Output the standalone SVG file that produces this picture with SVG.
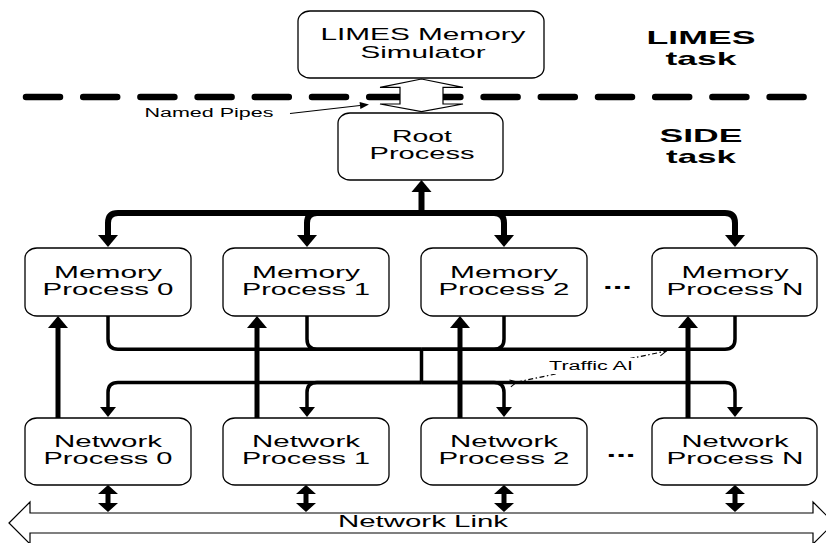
<svg xmlns="http://www.w3.org/2000/svg" width="826" height="543" viewBox="0 0 826 543">
  <style>
    .box { fill: #fff; stroke: #000; stroke-width: 1.3; }
    .t { font-family: "Liberation Sans", Arial, sans-serif; font-size: 17px; text-anchor: middle; fill: #000; }
    .ts { font-family: "Liberation Sans", Arial, sans-serif; font-size: 12.5px; text-anchor: middle; fill: #000; }
    .tb { font-family: "Liberation Sans", Arial, sans-serif; font-size: 18.5px; font-weight: bold; text-anchor: middle; fill: #000; }
    .dots { font-family: "Liberation Sans", Arial, sans-serif; font-size: 21px; font-weight: bold; text-anchor: middle; fill: #000; }
    .bus { fill: none; stroke: #000; stroke-width: 6; }
    .link { fill: none; stroke: #000; stroke-width: 3.5; }
    .up { fill: none; stroke: #000; stroke-width: 5; }
    .hollow { fill: #fff; stroke: #000; stroke-width: 1.2; stroke-linejoin: miter; }
    .head { fill: #000; }
  </style>
  <defs>
    <!-- solid heads; the path ends at the head's base -->
    <marker id="big" markerUnits="userSpaceOnUse" markerWidth="13" markerHeight="20" refX="0" refY="10" orient="auto" overflow="visible">
      <path d="M0,0 L12,10 L0,20 Z" class="head"/>
    </marker>
    <marker id="small" markerUnits="userSpaceOnUse" markerWidth="11" markerHeight="16" refX="0" refY="8" orient="auto" overflow="visible">
      <path d="M0,0 L10,8 L0,16 Z" class="head"/>
    </marker>
    <marker id="pipe" markerUnits="userSpaceOnUse" markerWidth="10" markerHeight="8" refX="0" refY="3.5" orient="auto" overflow="visible">
      <path d="M0,0 L9,3.5 L0,7 Z" class="head"/>
    </marker>
    <marker id="vee" markerUnits="userSpaceOnUse" markerWidth="8" markerHeight="8" refX="7" refY="3.5" orient="auto" overflow="visible">
      <path d="M0,0 L7,3.5 L0,7" fill="none" stroke="#000" stroke-width="1"/>
    </marker>
  </defs>

  <rect width="826" height="543" fill="#fff"/>

  <!-- task boundary -->
  <line x1="26" y1="97" x2="812" y2="97" stroke="#000" stroke-width="6.5" stroke-linecap="round" stroke-dasharray="34 23.2"/>

  <!-- connectors -->
  <g id="connectors">
    <!-- named pipes between simulator and root -->
    <polygon class="hollow" points="421.5,79 380,87.3 400,87.3 400,104 380,104 421.5,111.7 463,104 443,104 443,87.3 463,87.3"/>
    <line x1="290" y1="113.5" x2="360" y2="105.5" stroke="#000" stroke-width="1.2" marker-end="url(#pipe)"/>

    <!-- control bus from root to memory processes -->
    <path class="bus" d="M421.5,216 V192" marker-end="url(#big)"/>
    <path class="bus" d="M421.5,213 H118 Q108,213 108,223 V235" marker-end="url(#big)"/>
    <path class="bus" d="M421.5,213 H317 Q307,213 307,223 V235" marker-end="url(#big)"/>
    <path class="bus" d="M421.5,213 H494 Q504,213 504,223 V235" marker-end="url(#big)"/>
    <path class="bus" d="M421.5,213 H725 Q735,213 735,223 V235" marker-end="url(#big)"/>

    <!-- memory outputs merged and fanned out to network processes -->
    <path class="link" d="M108,316 V339 Q108,349.3 118,349.3 H421.5"/>
    <path class="link" d="M307,316 V339 Q307,349.3 317,349.3 H421.5"/>
    <path class="link" d="M504,316 V339 Q504,349.3 494,349.3 H421.5"/>
    <path class="link" d="M735,316 V339 Q735,349.3 725,349.3 H421.5"/>
    <path class="link" d="M421.5,349.3 V382.5"/>
    <path class="link" d="M421.5,382.5 H118 Q108,382.5 108,392.5 V407" marker-end="url(#small)"/>
    <path class="link" d="M421.5,382.5 H317 Q307,382.5 307,392.5 V407" marker-end="url(#small)"/>
    <path class="link" d="M421.5,382.5 H494 Q504,382.5 504,392.5 V407" marker-end="url(#small)"/>
    <path class="link" d="M421.5,382.5 H725 Q735,382.5 735,392.5 V407" marker-end="url(#small)"/>

    <!-- network processes up to memory processes -->
    <path class="up" d="M58,418 V328" marker-end="url(#big)"/>
    <path class="up" d="M257,418 V328" marker-end="url(#big)"/>
    <path class="up" d="M460,418 V328" marker-end="url(#big)"/>
    <path class="up" d="M688,418 V328" marker-end="url(#big)"/>

    <!-- traffic AI exchange -->
    <line x1="517" y1="382" x2="666.5" y2="351" stroke="#000" stroke-width="1.2" stroke-dasharray="5 2.5 1.5 2.5" marker-start="url(#vee)" marker-end="url(#vee)"/>
    <rect x="547" y="358" width="88" height="16" fill="#fff"/>

    <!-- network link -->
    <polygon class="hollow" points="9,523 30,502 30,513 813,513 813,502 834,523 813,544 813,533 30,533 30,544"/>
    <g id="link-taps">
      <g transform="translate(108,0)">
        <rect x="-2.5" y="493" width="5" height="11" class="head"/>
        <path d="M-10,494 L0,485 L10,494 Z M-10,503 L0,512 L10,503 Z" class="head"/>
      </g>
      <g transform="translate(306,0)">
        <rect x="-2.5" y="493" width="5" height="11" class="head"/>
        <path d="M-10,494 L0,485 L10,494 Z M-10,503 L0,512 L10,503 Z" class="head"/>
      </g>
      <g transform="translate(504,0)">
        <rect x="-2.5" y="493" width="5" height="11" class="head"/>
        <path d="M-10,494 L0,485 L10,494 Z M-10,503 L0,512 L10,503 Z" class="head"/>
      </g>
      <g transform="translate(735,0)">
        <rect x="-2.5" y="493" width="5" height="11" class="head"/>
        <path d="M-10,494 L0,485 L10,494 Z M-10,503 L0,512 L10,503 Z" class="head"/>
      </g>
    </g>
  </g>

  <!-- labels -->
  <text class="ts" x="209" y="117" textLength="129" lengthAdjust="spacingAndGlyphs">Named Pipes</text>
  <text class="ts" x="591" y="370" textLength="84" lengthAdjust="spacingAndGlyphs">Traffic AI</text>
  <text class="t" x="423" y="527" textLength="170" lengthAdjust="spacingAndGlyphs">Network Link</text>
  <text class="tb" x="701" y="44" textLength="109" lengthAdjust="spacingAndGlyphs">LIMES</text>
  <text class="tb" x="701" y="65" textLength="71" lengthAdjust="spacingAndGlyphs">task</text>
  <text class="tb" x="701" y="142" textLength="83" lengthAdjust="spacingAndGlyphs">SIDE</text>
  <text class="tb" x="701" y="163" textLength="70" lengthAdjust="spacingAndGlyphs">task</text>
  <text class="dots" x="617.5" y="289" textLength="29" lengthAdjust="spacingAndGlyphs">...</text>
  <text class="dots" x="621" y="457" textLength="29" lengthAdjust="spacingAndGlyphs">...</text>

  <!-- nodes -->
  <g id="limes-simulator">
    <rect class="box" x="298" y="11" width="246" height="67" rx="12" ry="10"/>
    <text class="t" x="423" y="40" textLength="205" lengthAdjust="spacingAndGlyphs">LIMES Memory</text>
    <text class="t" x="423" y="58" textLength="125" lengthAdjust="spacingAndGlyphs">Simulator</text>
  </g>
  <g id="root-process">
    <rect class="box" x="338" y="113" width="165" height="67" rx="12" ry="10"/>
    <text class="t" x="422" y="142" textLength="60" lengthAdjust="spacingAndGlyphs">Root</text>
    <text class="t" x="422" y="159" textLength="105" lengthAdjust="spacingAndGlyphs">Process</text>
  </g>

  <g id="memory-process-0">
    <rect class="box" x="25" y="248" width="166" height="68" rx="12" ry="10"/>
    <text class="t" x="108" y="278" textLength="108" lengthAdjust="spacingAndGlyphs">Memory</text>
    <text class="t" x="108" y="295" textLength="131" lengthAdjust="spacingAndGlyphs">Process 0</text>
  </g>
  <g id="memory-process-1">
    <rect class="box" x="223" y="248" width="166" height="68" rx="12" ry="10"/>
    <text class="t" x="306" y="278" textLength="108" lengthAdjust="spacingAndGlyphs">Memory</text>
    <text class="t" x="306" y="295" textLength="128" lengthAdjust="spacingAndGlyphs">Process 1</text>
  </g>
  <g id="memory-process-2">
    <rect class="box" x="421" y="248" width="166" height="68" rx="12" ry="10"/>
    <text class="t" x="504" y="278" textLength="108" lengthAdjust="spacingAndGlyphs">Memory</text>
    <text class="t" x="504" y="295" textLength="131" lengthAdjust="spacingAndGlyphs">Process 2</text>
  </g>
  <g id="memory-process-n">
    <rect class="box" x="652" y="248" width="165" height="68" rx="12" ry="10"/>
    <text class="t" x="735" y="278" textLength="107" lengthAdjust="spacingAndGlyphs">Memory</text>
    <text class="t" x="735" y="295" textLength="137" lengthAdjust="spacingAndGlyphs">Process N</text>
  </g>

  <g id="network-process-0">
    <rect class="box" x="25" y="418" width="166" height="67" rx="12" ry="10"/>
    <text class="t" x="108" y="447" textLength="108" lengthAdjust="spacingAndGlyphs">Network</text>
    <text class="t" x="108" y="464" textLength="129" lengthAdjust="spacingAndGlyphs">Process 0</text>
  </g>
  <g id="network-process-1">
    <rect class="box" x="223" y="418" width="166" height="67" rx="12" ry="10"/>
    <text class="t" x="306" y="447" textLength="108" lengthAdjust="spacingAndGlyphs">Network</text>
    <text class="t" x="306" y="464" textLength="128" lengthAdjust="spacingAndGlyphs">Process 1</text>
  </g>
  <g id="network-process-2">
    <rect class="box" x="421" y="418" width="166" height="67" rx="12" ry="10"/>
    <text class="t" x="504" y="447" textLength="108" lengthAdjust="spacingAndGlyphs">Network</text>
    <text class="t" x="504" y="464" textLength="131" lengthAdjust="spacingAndGlyphs">Process 2</text>
  </g>
  <g id="network-process-n">
    <rect class="box" x="652" y="418" width="165" height="67" rx="12" ry="10"/>
    <text class="t" x="735" y="447" textLength="107" lengthAdjust="spacingAndGlyphs">Network</text>
    <text class="t" x="735" y="464" textLength="137" lengthAdjust="spacingAndGlyphs">Process N</text>
  </g>
</svg>
